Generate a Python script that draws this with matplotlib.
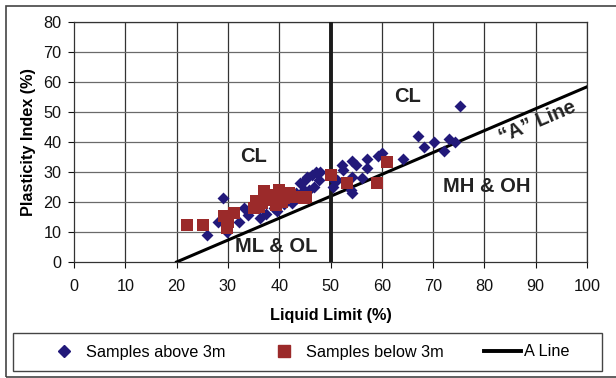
import matplotlib
matplotlib.use("Agg")
import matplotlib.pyplot as plt
from matplotlib.lines import Line2D
from matplotlib.patches import Rectangle

plt.rcParams['font.family'] = ['Liberation Sans', 'DejaVu Sans']

# samples above 3m (liquid limit, plasticity index)
above_ll = [25.9, 28.0, 29.0, 29.8, 32.1, 33.1, 34.0, 36.2, 37.5, 38.9, 39.5, 40.2, 41.0,
            42.5, 43.2, 43.5, 44.1, 44.8, 45.1, 45.4, 45.8, 46.4, 46.7, 47.2, 47.7, 48.0,
            50.4, 50.6, 51.3, 52.3, 52.4, 53.9, 54.1, 54.1, 54.2, 54.9, 56.2, 57.2, 57.2,
            59.2, 60.1, 64.2, 67.1, 68.2, 70.2, 72.1, 73.1, 74.2, 75.2]
above_pi = [9.1, 13.2, 21.2, 10.1, 13.4, 17.9, 15.7, 14.6, 16.0, 17.9, 17.0, 24.0, 19.5,
            19.6, 22.9, 21.5, 26.2, 24.0, 27.3, 28.2, 24.0, 29.0, 25.1, 30.0, 27.3, 30.0,
            25.1, 27.3, 27.3, 32.3, 30.7, 24.0, 28.4, 23.1, 33.8, 32.3, 27.9, 34.3, 31.2,
            35.3, 36.2, 34.3, 42.1, 38.4, 40.1, 37.1, 41.0, 40.0, 52.0]

# samples below 3m
below_ll = [22.0, 25.1, 29.2, 29.8, 30.1, 31.1, 35.0, 35.5, 36.0, 36.7, 37.0, 37.6, 38.3,
            38.5, 39.3, 39.9, 40.5, 40.9, 41.9, 42.2, 42.8, 43.2, 44.8, 45.3, 50.1, 53.3,
            59.1, 61.1]
below_pi = [12.3, 12.3, 15.4, 11.2, 13.5, 16.2, 17.9, 20.5, 18.5, 19.6, 23.7, 20.7, 21.2,
            22.5, 19.0, 24.0, 20.0, 21.2, 22.9, 22.3, 21.8, 21.8, 21.2, 21.8, 29.0, 26.3,
            26.4, 33.2]

aline_ll = [20, 100]

W, H = 616, 378


def main():
    fig = plt.figure(figsize=(6.16, 3.78), dpi=100)
    ax = fig.add_axes([74 / W, 1 - 262 / H, 513 / W, 240 / H])

    ax.set_xlim(0, 100)
    ax.set_ylim(0, 80)
    ax.set_xticks(range(0, 101, 10))
    ax.set_yticks(range(0, 81, 10))
    for v in range(10, 101, 10):
        ax.axvline(v, color='#333333', lw=0.9, zorder=0)
    for v in range(10, 81, 10):
        ax.axhline(v, color='#6a6a6a', lw=0.9, zorder=0)
    for s in ax.spines.values():
        s.set_color('#333333')
        s.set_linewidth(0.9)
    ax.tick_params(labelsize=11.7, length=4, direction='out', colors='#111111')
    ax.tick_params(axis='x', pad=8.5)
    ax.tick_params(axis='y', pad=5)

    aline_pi = [0.73 * (v - 20) for v in aline_ll]
    ax.plot(aline_ll, aline_pi, color='black', lw=2.2, zorder=3)
    ax.plot([50, 50], [0, 80], color='#1a1a1a', lw=2.8, zorder=4)

    ax.scatter(above_ll, above_pi, marker='D', s=37, color='#22197a', zorder=5, linewidths=0)
    ax.scatter(below_ll, below_pi, marker='s', s=68, color='#9b2a2a', zorder=6, linewidths=0)

    lab = dict(fontsize=14.5, fontweight='bold', ha='center', va='center', color='#222222')
    ax.text(35, 35, 'CL', **lab)
    ax.text(65, 55, 'CL', **lab)
    ax.text(39.5, 5, 'ML & OL', **lab)
    ax.text(80.5, 25, 'MH & OH', **lab)
    ax.text(90.4, 46.8, '\u201cA\u201d Line', rotation=23, **lab)

    ax.set_xlabel('Liquid Limit (%)', fontsize=11.7, fontweight='bold', labelpad=10)
    ax.set_ylabel('Plasticity Index (%)', fontsize=11.7, fontweight='bold', labelpad=5)

    handles = [
        Line2D([], [], marker='D', color='#22197a', ls='none', markersize=6),
        Line2D([], [], marker='s', color='#9b2a2a', ls='none', markersize=8),
        Line2D([], [], color='black', lw=2.8),
    ]
    labels = ['Samples above 3m', 'Samples below 3m', 'A Line']
    fig.legend(handles, labels, loc='center', ncol=3, fontsize=11.7,
               bbox_to_anchor=(307.5 / W, 1 - 352 / H), frameon=False,
               handlelength=2.3, handletextpad=0.2, columnspacing=2.45, borderaxespad=0)

    # legend box
    fig.patches.append(Rectangle((13 / W, 1 - 371 / H), 589 / W, 38 / H, transform=fig.transFigure,
                                 fill=False, edgecolor='#444444', lw=1.0))
    # outer chart frame
    fig.patches.append(Rectangle((6 / W, 1 - 377 / H), 1.0, 371 / H, transform=fig.transFigure,
                                 fill=False, edgecolor='#444444', lw=1.2))

    fig.savefig('out.png', dpi=100)


if __name__ == "__main__":
    main()
